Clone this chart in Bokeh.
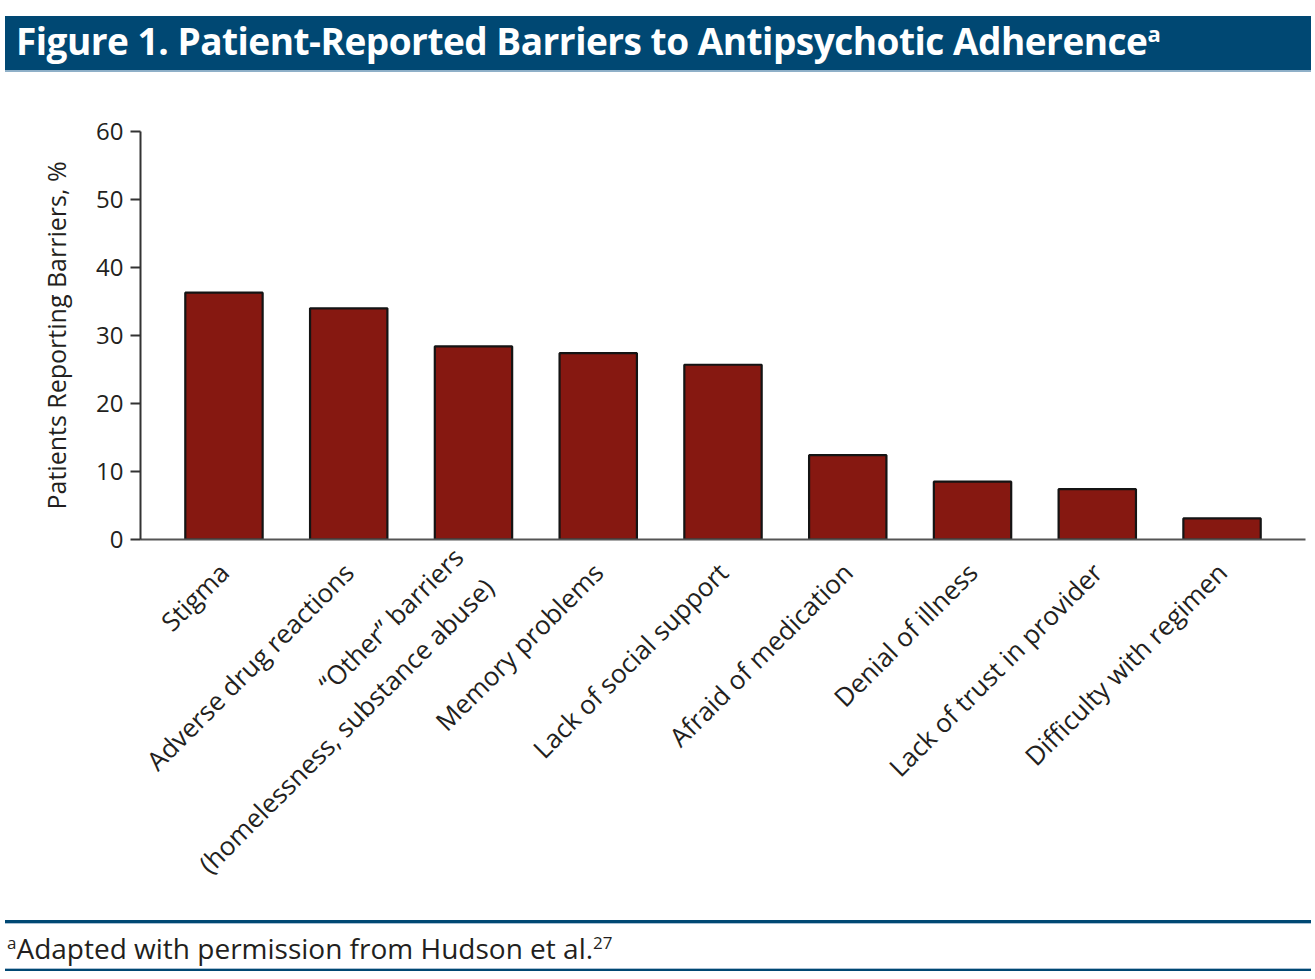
import math
from bokeh.plotting import figure
from bokeh.models import Div, FactorRange, Range1d, FixedTicker
from bokeh.layouts import column
from bokeh.embed import file_html
from bokeh.resources import INLINE

# ---- data ----
categories = [
    "Stigma",
    "Adverse drug reactions",
    "\u201cOther\u201d barriers\n(homelessness, substance abuse)",
    "Memory problems",
    "Lack of social support",
    "Afraid of medication",
    "Denial of illness",
    "Lack of trust in provider",
    "Difficulty with regimen",
]
values = [36.3, 34.0, 28.4, 27.4, 25.7, 12.4, 8.5, 7.4, 3.1]
y_ticks = [0, 10, 20, 30, 40, 50, 60]
title_text = "Figure 1. Patient-Reported Barriers to Antipsychotic Adherence"
y_label = "Patients Reporting Barriers, %"
footnote = "Adapted with permission from Hudson et al."

FONT = "Open Sans"
BLUE = "#004873"
INK = "#231f20"
W = 1315

header = Div(
    text=(
        '<div style="height:16px;"></div>'
        f'<div style="box-sizing:border-box;margin-left:5px;width:1306px;height:56px;'
        f'background:{BLUE};border-bottom:2px solid #8fb0c8;color:#fff;'
        f"font-family:'{FONT}';font-weight:700;font-size:37px;line-height:50px;"
        f'padding-left:11px;white-space:nowrap;letter-spacing:-0.5px;">'
        f'{title_text}<sup style="font-size:22px;line-height:0;">a</sup></div>'
    ),
    width=W, height=72, margin=0,
)

p = figure(
    x_range=FactorRange(factors=categories, range_padding=0.169, range_padding_units="absolute"),
    y_range=Range1d(0, 60),
    width=W, height=843,
    output_backend="svg", toolbar_location=None,
    min_border_left=140, min_border_right=10, min_border_top=59, min_border_bottom=376,
    margin=0,
)
p.outline_line_color = None
p.xgrid.visible = False
p.ygrid.visible = False

p.vbar(x=categories, top=values, bottom=0, width=0.62,
       fill_color="#861811", line_color="#141414", line_width=2.2)

ya = p.yaxis[0]
ya.ticker = FixedTicker(ticks=y_ticks)
ya.major_tick_out = 10
ya.major_tick_in = 0
ya.minor_tick_line_color = None
ya.axis_line_width = 2
ya.axis_line_color = "#333333"
ya.major_tick_line_width = 2
ya.major_tick_line_color = "#333333"
ya.major_label_text_font = FONT
ya.major_label_text_font_size = "24px"
ya.major_label_text_color = INK
ya.major_label_standoff = 7
ya.axis_label = y_label
ya.axis_label_text_font = FONT
ya.axis_label_text_font_size = "25px"
ya.axis_label_text_font_style = "normal"
ya.axis_label_text_color = INK
ya.axis_label_standoff = 20

xa = p.xaxis[0]
xa.major_tick_line_color = None
xa.minor_tick_line_color = None
xa.axis_line_width = 2
xa.axis_line_color = "#555555"
xa.major_label_orientation = math.pi / 4
xa.major_label_text_font = FONT
xa.major_label_text_font_size = "26px"
xa.major_label_text_color = INK
xa.major_label_standoff = 22

footer = Div(
    text=(
        '<div style="height:5px;"></div>'
        f'<div style="margin-left:5px;width:1306px;">'
        f'<div style="height:3px;background:{BLUE};"></div>'
        '<div style="height:1px;background:#a9c0d4;"></div>'
        f"<div style=\"height:44px;padding-left:2px;font-family:'{FONT}';font-size:28px;line-height:48px;color:{INK};white-space:nowrap;\">"
        f'<sup style="font-size:17px;line-height:0;">a</sup>{footnote}<sup style="font-size:17px;line-height:0;">27</sup></div>'
        '<div style="height:1px;background:#a9c0d4;"></div>'
        f'<div style="height:2px;background:{BLUE};"></div>'
        '</div>'
    ),
    width=W, height=64, margin=0,
)

layout = column(header, p, footer, spacing=0, margin=0)
open("out.html", "w").write(file_html(layout, INLINE))
